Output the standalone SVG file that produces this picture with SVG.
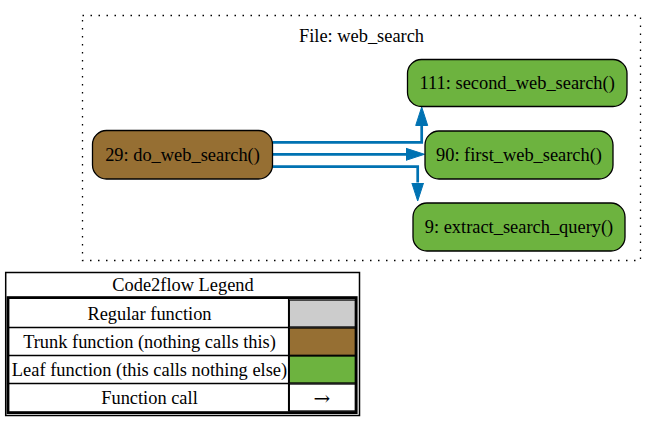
<svg xmlns="http://www.w3.org/2000/svg" width="657" height="421" viewBox="0 0 657 421">
<style>
  text { font-family: "Liberation Serif", "Times New Roman", serif; font-size: 18.4px; fill: #000; text-anchor: middle; }
  .node rect { stroke: #000; stroke-width: 1.3; }
  .trunk { fill: #966F33; }
  .leaf { fill: #6db33f; }
  .edge { fill: none; stroke: #0072B2; stroke-width: 2.7; stroke-linejoin: miter; }
  .cell { stroke: #000; stroke-width: 1.3; }
  .arrowglyph { font-family: "DejaVu Serif", "Liberation Serif", serif; font-size: 20px; }
</style>
<defs>
  <marker id="arrow" markerUnits="userSpaceOnUse" markerWidth="20" markerHeight="14" viewBox="0 -7 20 14" refX="0" refY="0" orient="auto">
    <path d="M0,-6 L18.5,0 L0,6 Z" fill="#0072B2" stroke="#0072B2" stroke-width="1"/>
  </marker>
</defs>
<rect width="657" height="421" fill="#fff"/>

<g id="cluster_web_search">
  <rect x="82.5" y="15.5" width="558" height="245" fill="none" stroke="#000" stroke-width="1.3" stroke-dasharray="1.5,6.5"/>
  <text x="361.5" y="41.5">File: web_search</text>
</g>

<g id="edges">
  <polyline class="edge" points="272.5,142.3 421.7,142.3 421.7,125.5" marker-end="url(#arrow)"/>
  <polyline class="edge" points="272.5,154.3 406,154.3" marker-end="url(#arrow)"/>
  <polyline class="edge" points="272.5,166.7 417.7,166.7 417.7,182.5" marker-end="url(#arrow)"/>
</g>

<g id="node_do_web_search" class="node">
  <rect class="trunk" x="92.5" y="130.5" width="180" height="48.5" rx="14" ry="14"/>
  <text x="182.5" y="161">29: do_web_search()</text>
</g>
<g id="node_second_web_search" class="node">
  <rect class="leaf" x="407.5" y="59.5" width="219.5" height="47" rx="14" ry="14"/>
  <text x="517.2" y="89.3">111: second_web_search()</text>
</g>
<g id="node_first_web_search" class="node">
  <rect class="leaf" x="425" y="131" width="188" height="48" rx="14" ry="14"/>
  <text x="519" y="161.3">90: first_web_search()</text>
</g>
<g id="node_extract_search_query" class="node">
  <rect class="leaf" x="413" y="203" width="212" height="48" rx="14" ry="14"/>
  <text x="519" y="233.3">9: extract_search_query()</text>
</g>

<g id="legend">
  <rect x="5.7" y="272.5" width="353.8" height="143" fill="#fff" stroke="#000" stroke-width="1.5"/>
  <text x="183" y="291">Code2flow Legend</text>
  <rect x="8" y="297.6" width="348.2" height="115" fill="#fff" stroke="#000" stroke-width="2.8"/>
  <rect class="cell" x="289.3" y="300" width="66" height="27" fill="#cccccc"/>
  <rect class="cell" x="289.3" y="328" width="66" height="27.3" fill="#966F33"/>
  <rect class="cell" x="289.3" y="356" width="66" height="27" fill="#6db33f"/>
  <rect class="cell" x="289.3" y="384" width="66" height="27" fill="#fff"/>
  <line class="cell" x1="9" y1="327.5" x2="289.3" y2="327.5"/>
  <line class="cell" x1="9" y1="355.5" x2="289.3" y2="355.5"/>
  <line class="cell" x1="9" y1="383.5" x2="289.3" y2="383.5"/>
  <line class="cell" x1="288.6" y1="299" x2="288.6" y2="411.5"/>
  <text x="149.5" y="319.8">Regular function</text>
  <text x="149.5" y="347.8">Trunk function (nothing calls this)</text>
  <text x="149.5" y="375.8">Leaf function (this calls nothing else)</text>
  <text x="149.5" y="403.6">Function call</text>
  <text class="arrowglyph" x="322" y="405">→</text>
</g>
</svg>
